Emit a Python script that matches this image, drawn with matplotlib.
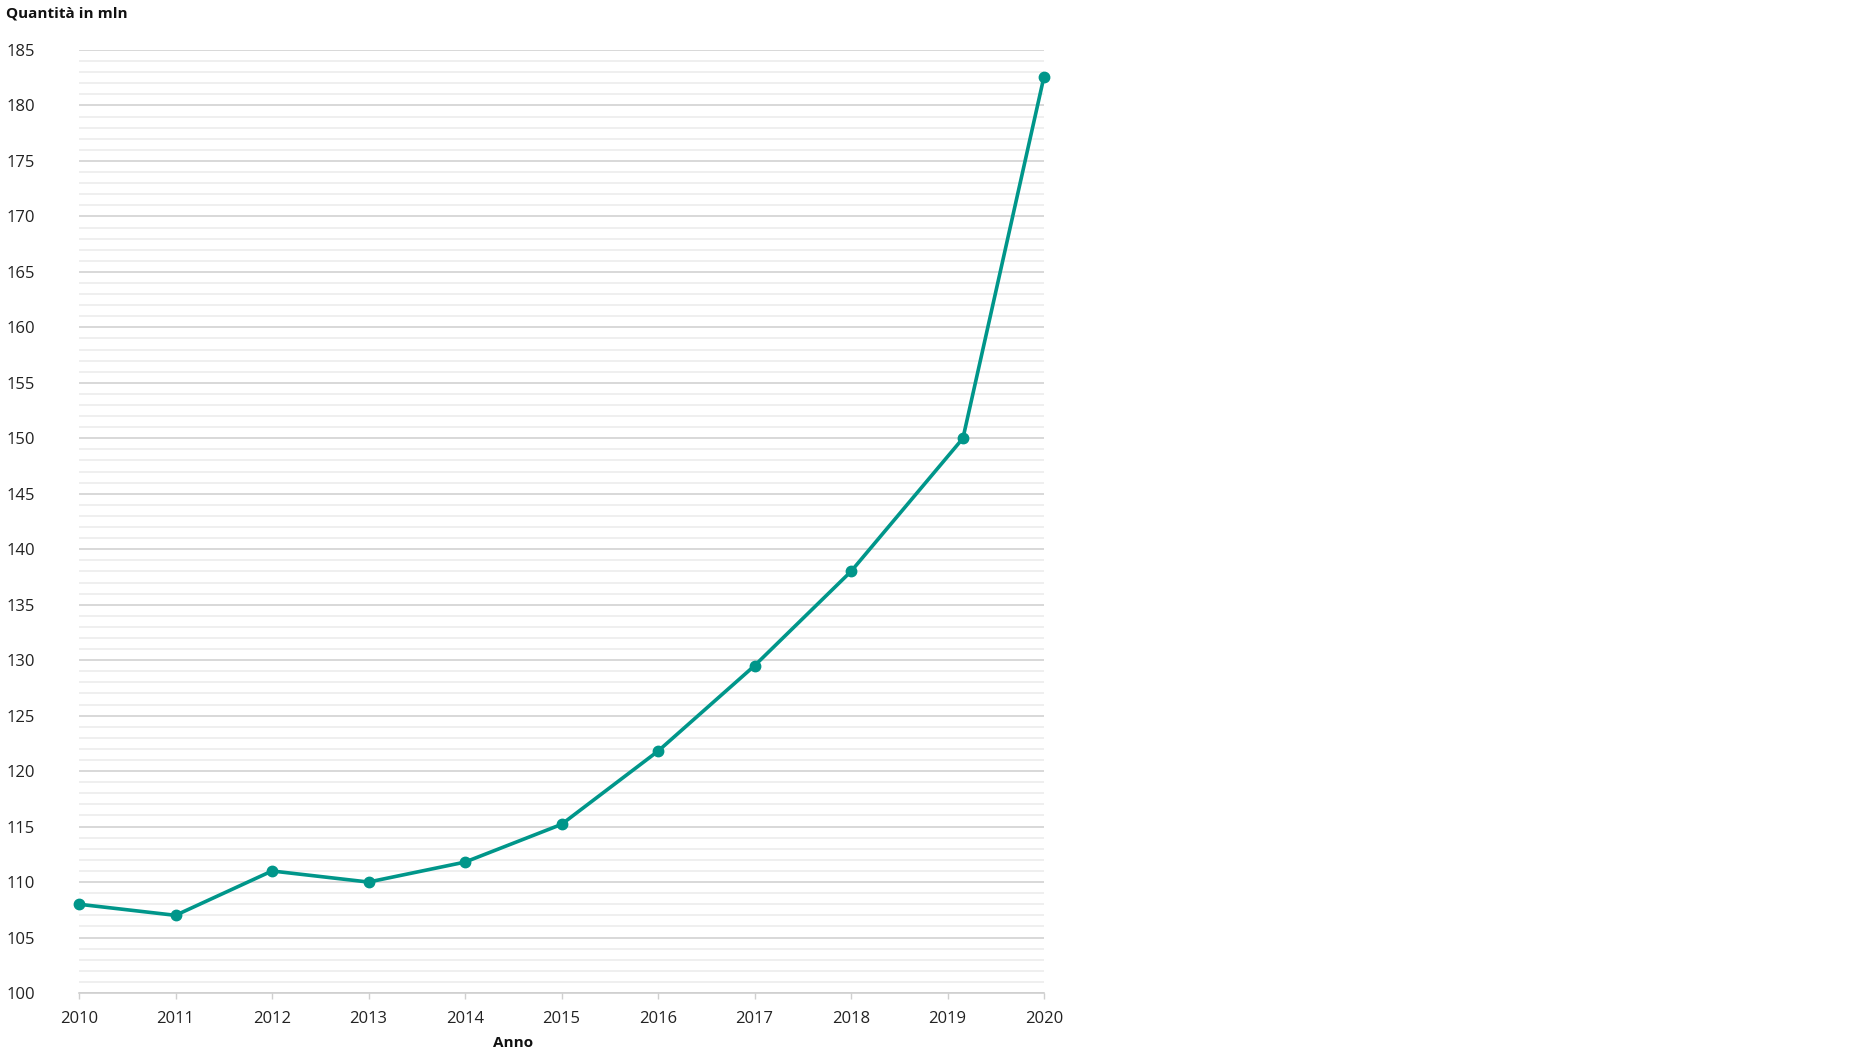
import matplotlib.pyplot as plt
from matplotlib.ticker import MultipleLocator

plt.rcParams['font.family'] = ['Open Sans', 'DejaVu Sans']

# values (2019 point sits a bit right of its tick)
anni = [2010, 2011, 2012, 2013, 2014, 2015, 2016, 2017, 2018, 2019.16, 2020]
quantita = [108.0, 107.0, 111.0, 110.0, 111.8, 115.2, 121.8, 129.5, 138.0, 150.0, 182.6]
tick_anni = list(range(2010, 2021))
teal = '#00968a'

fig = plt.figure(figsize=(18.72, 10.53), dpi=100)
ax = fig.add_axes([79 / 1872, 60 / 1053, 965 / 1872, 943 / 1053])

ax.plot(anni, quantita, color=teal, lw=2.6, marker='o', ms=7.5,
        clip_on=False, zorder=3)

ax.set_xlim(2010, 2020)
ax.set_ylim(100, 185)
ax.set_xticks(tick_anni)
ax.set_xticklabels([str(a) for a in tick_anni])
ax.yaxis.set_major_locator(MultipleLocator(5))
ax.yaxis.set_minor_locator(MultipleLocator(1))

ax.grid(axis='y', which='major', color='#d2d2d2', lw=1.2, zorder=0)
ax.grid(axis='y', which='minor', color='#ececec', lw=1.2, zorder=0)
ax.set_axisbelow(True)

for s in ['top', 'right', 'left']:
    ax.spines[s].set_visible(False)
ax.spines['bottom'].set_color('#cfcfcf')
ax.spines['bottom'].set_linewidth(1.2)

ax.tick_params(axis='y', which='both', length=0, labelsize=12,
               labelcolor='#222222', pad=52)
for lab in ax.get_yticklabels():
    lab.set_horizontalalignment('left')
ax.tick_params(axis='x', length=4, width=1, color='#cfcfcf', labelsize=12,
               labelcolor='#222222', pad=9)

fig.text(6 / 1872, 1 - 14 / 1053, 'Quantità in mln', fontsize=11,
         fontweight='bold', va='center', ha='left', color='#111111')
fig.text(513 / 1872, 1 - 1043 / 1053, 'Anno', fontsize=11,
         fontweight='bold', va='center', ha='center', color='#111111')

fig.savefig('out.png', dpi=100, facecolor='white')
